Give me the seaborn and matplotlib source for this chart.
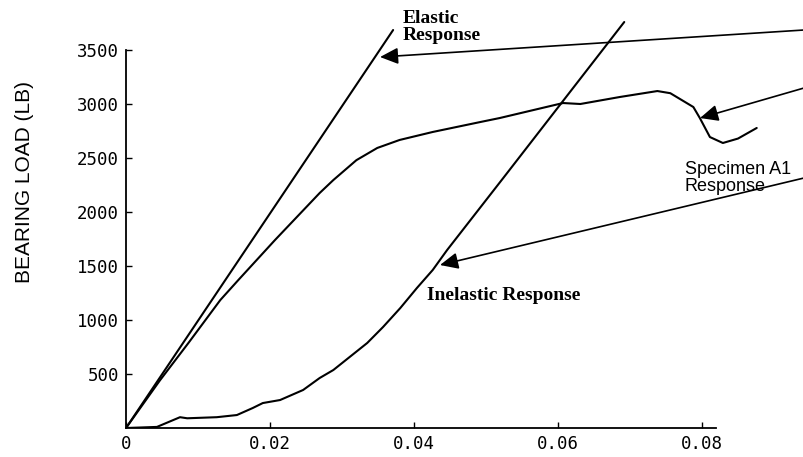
import numpy as np
import pandas as pd
import matplotlib
matplotlib.use("Agg")
import matplotlib.pyplot as plt
import seaborn as sns

# ---- data ----
elastic_x = [0.0, 0.0371]
elastic_y = [0, 3685]

specimen_x = [0.0, 0.0047, 0.0087, 0.0131, 0.0156, 0.0207, 0.0269, 0.0288, 0.0320, 0.0349,
              0.0380, 0.0426, 0.0492, 0.0519, 0.0607, 0.0631, 0.0686, 0.0738, 0.0756,
              0.0788, 0.0797, 0.0811, 0.0829, 0.0850, 0.0876]
specimen_y = [0, 440, 790, 1185, 1370, 1741, 2176, 2296, 2480, 2593,
              2667, 2741, 2833, 2870, 3009, 3000, 3065, 3120, 3100,
              2972, 2870, 2694, 2639, 2680, 2778]

inelastic_x = [0.0, 0.0043, 0.0075, 0.0085, 0.0126, 0.0154, 0.0176, 0.0190, 0.0214,
               0.0246, 0.0269, 0.0288, 0.0335, 0.0357, 0.0381, 0.0404, 0.0426, 0.0446,
               0.0524, 0.0692]
inelastic_y = [0, 10, 100, 90, 100, 120, 185, 231, 259,
               352, 463, 537, 787, 935, 1111, 1296, 1463, 1648,
               2315, 3759]

x_ticks = [0, 0.02, 0.04, 0.06, 0.08]
x_tick_labels = ["0", "0.02", "0.04", "0.06", "0.08"]
y_ticks = [500, 1000, 1500, 2000, 2500, 3000, 3500]
y_tick_labels = ["500", "1000", "1500", "2000", "2500", "3000", "3500"]

y_label = "BEARING LOAD (LB)"
lbl_elastic = "Elastic\nResponse"
lbl_specimen = "Specimen A1\nResponse"
lbl_inelastic = "Inelastic Response"

# ---- build tables ----
df = pd.concat([
    pd.DataFrame({"x": elastic_x, "y": elastic_y, "curve": "elastic"}),
    pd.DataFrame({"x": specimen_x, "y": specimen_y, "curve": "specimen"}),
    pd.DataFrame({"x": inelastic_x, "y": inelastic_y, "curve": "inelastic"}),
], ignore_index=True)

sns.set_style("ticks")
plt.rcParams["font.family"] = ["DejaVu Sans"]
plt.rcParams["text.color"] = "black"
plt.rcParams["axes.labelcolor"] = "black"

W, H = 804, 457
fig = plt.figure(figsize=(W / 100, H / 100), dpi=100)
ax = fig.add_axes([126 / W, 29 / H, 678 / W, 428 / H])

sns.lineplot(data=df, x="x", y="y", hue="curve", units="curve", estimator=None,
             sort=False, palette={"elastic": "black", "specimen": "black", "inelastic": "black"},
             linewidth=1.5, legend=False, ax=ax)

ax.set_xlim(0, 678 / 7200)
ax.set_ylim(0, 428 / 0.108)

for s in ["top", "right"]:
    ax.spines[s].set_visible(False)
ax.spines["left"].set_bounds(0, 3500)
ax.spines["bottom"].set_bounds(0, 0.082)
ax.spines["left"].set_linewidth(1.3)
ax.spines["bottom"].set_linewidth(1.3)
ax.spines["left"].set_color("black")
ax.spines["bottom"].set_color("black")

ax.set_xticks(x_ticks)
ax.set_xticklabels(x_tick_labels, family="DejaVu Sans Mono", fontsize=12.5)
ax.set_yticks(y_ticks)
ax.set_yticklabels(y_tick_labels, family="DejaVu Sans Mono", fontsize=12.5)
ax.tick_params(axis="both", direction="in", length=4, width=1, color="black", labelcolor="black")
ax.tick_params(axis="y", pad=5)
ax.tick_params(axis="x", pad=5)

ax.set_xlabel("")
ax.set_ylabel(y_label, family="Liberation Sans", fontsize=15, color="black")
ax.yaxis.set_label_coords(-0.136, 0.575)

# ---- annotations ----
arrow = dict(arrowstyle="-|>,head_length=0.55,head_width=0.25", color="black",
             lw=1.2, shrinkA=0, shrinkB=0, mutation_scale=20)
ax.annotate("", xy=(0.03528, 3435), xycoords="data",
            xytext=(804, 427), textcoords="figure pixels", arrowprops=arrow)
ax.annotate("", xy=(0.07972, 2870), xycoords="data",
            xytext=(804, 369), textcoords="figure pixels", arrowprops=arrow)
ax.annotate("", xy=(0.04361, 1509), xycoords="data",
            xytext=(804, 279), textcoords="figure pixels", arrowprops=arrow)

fig.text(403 / W, 1 - 10 / H, lbl_elastic, family="Liberation Serif", fontweight="bold",
         fontsize=14, ha="left", va="top", linespacing=1.0, color="black")
fig.text(427 / W, 1 - 296 / H, lbl_inelastic, family="Liberation Serif", fontweight="bold",
         fontsize=14, ha="left", va="center", color="black")
fig.text(685 / W, 1 - 161 / H, lbl_specimen, family="Liberation Sans",
         fontsize=13, ha="left", va="top", linespacing=1.0, color="black")

fig.savefig("out.png", dpi=100)
